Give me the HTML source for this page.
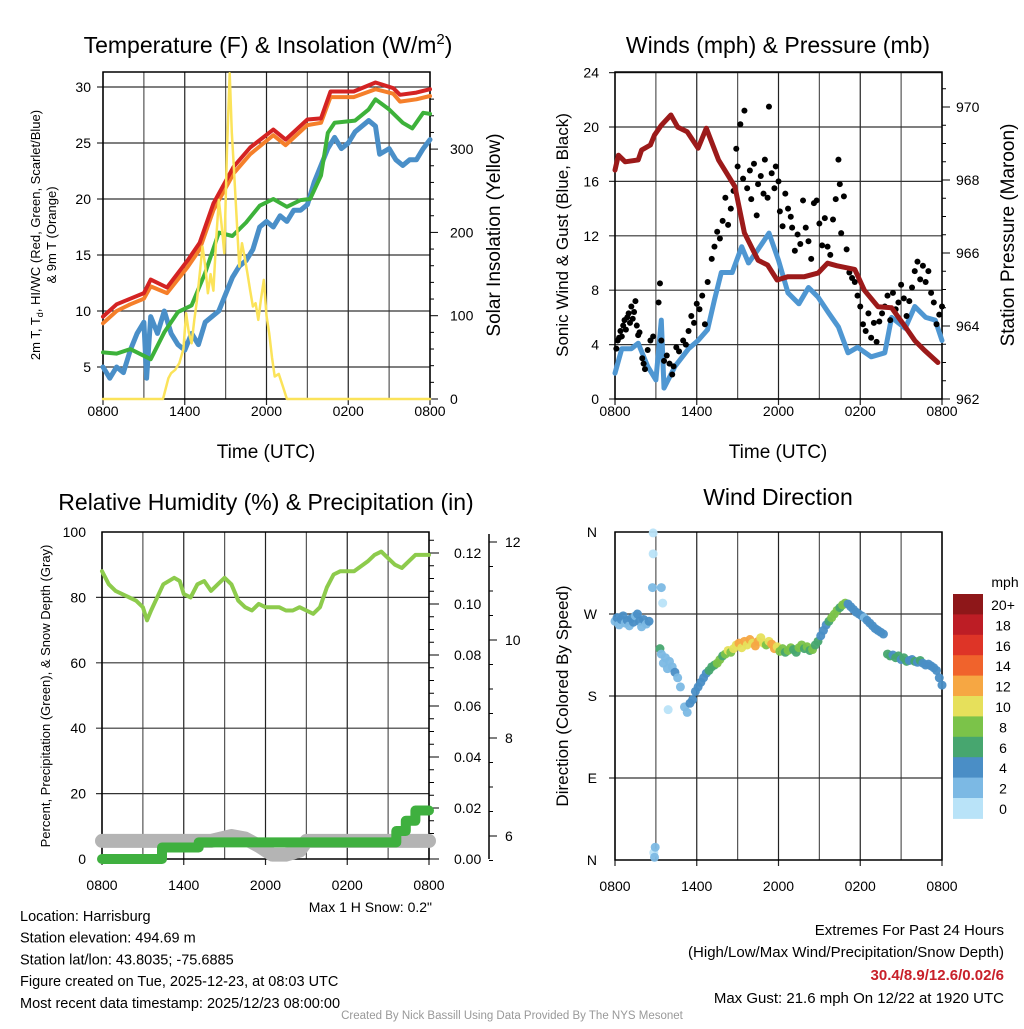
<!DOCTYPE html>
<html><head><meta charset="utf-8"><style>
body{margin:0;background:#fff;width:1024px;height:1024px;overflow:hidden;font-family:"Liberation Sans",sans-serif}
svg text{font-family:"Liberation Sans",sans-serif}
</style></head><body>
<svg id="s" width="1024" height="1024" viewBox="0 0 1024 1024" xmlns="http://www.w3.org/2000/svg"></svg>
<script>
// ---------- DATA ----------
const xTicks=["0800","1400","2000","0200","0800"];
// Panel 1
const tT=[0,1,2,3,3.5,4.7,6.2,7.1,8.1,9.6,10.8,12.5,13.4,15,16,16.7,18.4,20,21.3,21.8,23,24];
const tempRed=[9.5,10.6,11.1,11.6,12.8,12.1,14.5,16.1,19.6,22.9,24.6,26.2,25.3,27.1,27.2,29.6,29.6,30.4,29.9,29.3,29.5,29.8];
const temp9m=[8.9,10.0,10.6,11.1,12.2,11.6,13.9,15.5,19.0,22.3,24.0,25.7,24.8,26.6,26.8,29.1,29.1,29.8,29.4,28.7,28.9,29.2];
const tDew=[0,1,2,3,3.5,4.5,5.5,6.5,7.5,8.5,9.5,10.5,11.5,12.5,13.5,14.5,15.2,16,16.5,17,18.5,19.5,20,21,22,22.7,23.5,24];
const dew=[6.3,6.2,6.6,6.0,5.7,8.1,9.9,10.5,13.4,17.0,16.7,17.9,19.4,20.0,19.3,19.9,20.0,22.1,25.9,26.8,27.0,28.0,28.9,28.0,26.8,26.3,27.7,27.6];
const tWc=[0,0.5,1,1.5,2,2.5,3,3.2,3.5,4,4.5,5,5.5,6,6.5,7,7.5,8,8.5,9,9.5,10,10.5,11,11.5,12,12.5,13,13.5,14,14.5,15,15.5,16,16.5,17,17.5,18,18.5,19,19.5,20,20.3,21,21.5,22,22.5,23,23.5,24];
const windChill=[5,4,5,4.5,6.5,8,9,4,9.5,8,10,8,7,6.5,8,7,9,9.5,10,11.5,13,14,14.5,15.5,17.5,18,17.5,18.5,18,19,19,19.5,21.5,23,24.5,25.5,24.5,25,26,26.5,27,26.5,24,24.5,23.5,23,23.5,23.5,24.5,25.3];
const tSol=[0,4.4,4.8,5.0,5.3,5.6,5.9,6.1,6.3,6.5,6.7,6.9,7.1,7.3,7.5,7.7,7.9,8.1,8.3,8.5,8.7,8.9,9.1,9.3,9.45,9.6,9.8,10.0,10.2,10.4,10.6,10.8,11.0,11.2,11.4,11.6,11.8,12.0,12.2,12.4,12.6,12.9,13.2,13.5,24];
const solar=[0,0,25,31,35,43,60,103,80,67,95,119,150,183,160,127,150,130,190,239,210,175,300,391,320,279,220,159,187,170,151,130,111,115,95,120,143,100,79,50,27,30,15,0,0];
// Panel 2
const tWind=[0,0.5,1.2,1.7,2.4,3.0,3.4,3.6,4.4,5.4,6.1,6.8,7.3,7.8,8.6,9.3,9.8,10.5,11.3,12.0,12.7,13.5,14.2,14.9,15.7,16.4,17.1,17.8,18.8,19.8,20.3,21.3,22.0,22.8,23.5,24];
const wind=[1.9,3.7,3.7,4.1,2.4,1.4,5.8,0.8,2.4,3.7,4.3,5.1,7.3,9.3,9.3,11.2,10.0,11.0,12.2,10.2,7.8,7.0,8.2,7.5,6.3,5.3,3.4,3.8,3.1,3.4,6.0,5.2,6.8,6.0,5.8,4.3];
const tPres=[0,0.25,0.75,1.7,1.95,2.6,2.9,3.4,4.1,4.6,5.3,6.1,6.7,7.6,8.8,9.5,10.5,11.2,11.9,12.7,13.9,14.9,15.6,16.3,17.6,18.3,19.3,20.3,21.3,22.0,22.7,23.7];
const pressure=[968.27,968.68,968.5,968.55,968.82,968.96,969.23,969.5,969.78,969.45,969.32,968.87,969.42,968.55,967.82,966.55,965.8,965.67,965.26,965.35,965.35,965.45,965.72,965.65,965.55,964.98,964.53,964.5,963.98,963.6,963.34,963.0];
const gustT=[0.1,0.2,0.3,0.4,0.5,0.6,0.7,0.8,0.9,1.0,1.1,1.2,1.3,1.4,1.5,1.6,1.7,1.8,2.0,2.1,2.2,2.4,2.6,2.8,3.2,3.3,3.4,3.6,3.8,4.0,4.2,4.3,4.5,4.7,5.0,5.2,5.4,5.6,5.8,6.0,6.2,6.4,6.6,6.8,7.1,7.3,7.5,7.7,7.9,8.1,8.3,8.5,8.7,8.9,9.0,9.2,9.4,9.5,9.7,9.9,10.0,10.2,10.4,10.5,10.7,10.9,11.0,11.2,11.3,11.5,11.7,11.8,12.0,12.1,12.3,12.5,12.7,12.9,13.0,13.2,13.4,13.6,13.8,14.0,14.2,14.4,14.6,14.8,15.0,15.2,15.4,15.6,15.8,16.0,16.2,16.4,16.5,16.6,16.8,17.0,17.2,17.4,17.6,17.8,18.0,18.2,18.4,18.6,18.8,19.0,19.2,19.4,19.6,19.8,20.0,20.2,20.4,20.6,20.8,21.0,21.2,21.4,21.6,21.8,22.0,22.2,22.4,22.6,22.8,23.0,23.2,23.4,23.6,23.8,24.0];
const gust=[3.7,4.3,4.5,5.0,4.6,5.4,5.8,5.1,6.0,6.3,5.6,6.8,5.9,6.4,7.2,5.4,4.7,4.9,3.0,2.6,2.2,3.6,4.3,4.6,7.1,8.5,4.3,2.8,3.2,2.6,1.8,2.4,3.8,3.5,4.3,4.0,5.0,6.1,5.6,7.0,6.6,7.6,5.5,8.6,10.3,11.2,12.3,11.8,13.1,14.8,12.8,14.0,15.3,18.4,17.1,20.2,16.2,21.2,15.5,16.8,14.7,17.3,13.5,15.8,16.4,15.1,17.6,14.8,21.5,16.6,15.5,17.1,16.0,13.8,12.7,15.1,14.0,13.4,12.6,10.9,12.1,11.4,14.6,12.6,11.6,10.3,14.4,14.6,12.9,11.3,13.3,11.2,10.6,13.2,14.7,17.6,15.8,12.2,14.9,11.0,9.3,8.9,8.6,7.6,6.8,5.5,5.0,6.3,4.5,5.6,4.2,5.7,6.3,6.8,7.6,5.8,7.8,6.6,7.1,8.4,7.4,6.1,7.2,8.2,9.4,10.1,8.8,9.8,8.6,9.4,7.8,7.1,5.5,6.2,6.8];
// Panel 3
const tRh=[0,0.5,1,2,2.5,3,3.3,3.6,4.5,5.3,5.7,6,6.5,7,7.5,8,8.5,9,9.5,10,10.5,11,11.5,12,13,13.5,14,14.5,15,15.5,16,16.5,17,17.5,18.5,19.5,20,20.5,21,21.5,22,23,24];
const rh=[88,84,82,80,79,77,73,76,84,86,85,81,80,84,85,82,84,86,84,79,77,76,78,77,77,76,76,77,76,75,77,83,87,88,88,91,93,94,92,90,89,93,93];
const tPcp=[0,4.4,4.4,7.1,7.1,21.6,21.6,22.3,22.3,23.0,23.0,24];
const precip=[0,0,0.0045,0.0045,0.0065,0.0065,0.011,0.011,0.015,0.015,0.019,0.019];
const tSnow=[0,8,9.5,10.5,11.5,12.5,13.5,14.5,15,16,24];
const snow=[5.9,5.9,6.0,5.95,5.8,5.62,5.62,5.7,5.9,5.9,5.9];
// Panel 4
const dirT=[0,0.15,0.3,0.45,0.6,0.75,0.9,1.05,1.2,1.35,1.5,1.65,1.8,1.95,2.1,2.3,2.5,2.8,2.8,2.75,3.4,3.5,2.85,2.9,2.95,3.3,3.4,3.55,3.7,3.85,4.0,4.2,4.4,4.6,4.8,3.9,5.1,5.3,5.5,5.7,5.9,6.1,6.3,6.5,6.7,6.9,7.1,7.3,7.5,7.7,7.9,8.1,8.3,8.5,8.7,8.9,9.1,9.3,9.5,9.7,9.9,10.1,10.3,10.5,10.7,10.9,11.1,11.3,11.5,11.7,11.9,12.1,12.3,12.5,12.7,12.9,13.1,13.3,13.5,13.7,13.9,14.1,14.3,14.5,14.7,14.9,15.1,15.3,15.5,15.7,15.9,16.1,16.3,16.5,16.7,16.9,17.1,17.3,17.5,17.7,17.9,18.1,18.3,18.5,18.7,18.9,19.1,19.3,19.5,19.7,20.0,20.2,20.4,20.6,20.8,21.0,21.2,21.4,21.6,21.8,22.0,22.2,22.4,22.6,22.8,23.0,23.2,23.4,23.6,23.8,24.0];
const dirDeg=[262,266,258,264,268,260,263,257,265,261,268,270,262,256,264,259,262,359,336,299,299,282,8,3,14,232,226,216,222,210,218,212,206,200,190,165,168,162,172,176,185,190,195,200,205,208,212,214,216,220,224,226,230,228,232,236,238,233,240,236,242,238,235,240,244,238,236,240,237,232,234,229,232,228,230,233,231,228,233,236,232,234,230,231,236,240,246,252,258,262,266,270,274,277,280,282,281,278,275,272,270,268,266,263,260,257,254,252,250,248,226,224,225,222,224,220,222,218,219,220,218,217,219,216,214,215,213,211,208,200,192];
const dirSpd=[3,5,3,5,5,3,5,3,5,5,3,5,5,3,5,3,5,1,1,3,3,1,1,3,3,7,3,3,3,3,3,3,5,3,3,1,3,3,5,5,5,5,5,5,5,7,7,7,9,9,7,9,11,9,11,11,13,11,13,11,13,11,13,13,11,11,9,11,13,13,11,9,9,7,9,9,7,7,9,9,7,9,7,9,7,7,5,5,5,7,9,9,9,7,9,9,5,5,5,5,5,5,3,5,5,5,5,5,5,5,7,7,5,7,7,5,7,7,5,5,7,5,7,5,5,5,5,5,5,5,5];
const cbLabels=["20+","18","16","14","12","10","8","6","4","2","0"];
const cbColors=["#8e1719","#bd1d25","#de3427","#f0632c","#f6a743","#e6e05b","#7bc349","#47a66f","#4a8ec6","#7cb9e4","#b9e3f8"];

// ---------- HELPERS ----------
const S=document.getElementById('s');const NS='http://www.w3.org/2000/svg';
function el(tag,attrs,parent){const e=document.createElementNS(NS,tag);for(const k in attrs)e.setAttribute(k,attrs[k]);(parent||S).appendChild(e);return e;}
function txt(x,y,str,size,anchor,extra){const e=el('text',Object.assign({x:x,y:y,'font-size':size,'text-anchor':anchor||'middle',fill:'#000'},extra||{}));e.textContent=str;return e;}
function line(ts,vs,sx,sy,color,w,name){let d='';for(let i=0;i<ts.length;i++){d+=(i?'L':'M')+sx(ts[i]).toFixed(1)+','+sy(vs[i]).toFixed(1);}
 const p=el('path',{d:d,fill:'none',stroke:color,'stroke-width':w,'stroke-linejoin':'round','stroke-linecap':'round'});
 
 return p;}
function frame(x0,x1,y0,y1,hy,name,lab){
 const g=el('g',{});
 for(let h=0;h<=24;h+=3){const x=x0+(x1-x0)*h/24;el('line',{x1:x,x2:x,y1:y0,y2:y1+ (h%6==0?6:0),stroke:h%6==0?'#222':'#555','stroke-width':1.2},g);}
 hy.forEach(y=>el('line',{x1:x0-6,x2:x1,y1:y,y2:y,stroke:'#333','stroke-width':1.2},g));
 el('rect',{x:x0,y:y0,width:x1-x0,height:y1-y0,fill:'none',stroke:'#000','stroke-width':1.5},g);
 xTicks.forEach((l,i)=>{const t=txt(x0+(x1-x0)*i/4,y1+lab,l,14);});
 return g;}
function rtxt(x,y,str,size,name){const t=txt(x,y,str,size,'middle',{transform:'rotate(-90 '+x+' '+y+')'});return t;}
function tt(x,y,str,size,anchor,name,extra){const t=txt(x,y,str,size,anchor,extra);return t;}

// ---------- PANEL 1 ----------
{const x0=103,x1=430,y0=72,y1=399;const sx=t=>x0+(x1-x0)*t/24;const sy=v=>367-(v-5)*11.2;const ss=v=>399-v*0.833;
 frame(x0,x1,y0,y1,[5,10,15,20,25,30].map(sy),'temp-plot-frame',17);
 [5,10,15,20,25,30].forEach(v=>tt(x0-12,sy(v)+5,String(v),14,'end','temp-y-tick'));
 [0,100,200,300].forEach(v=>{tt(x1+20,ss(v)+5,String(v),14,'start','solar-y-tick');el('line',{x1:x1,x2:x1+8,y1:ss(v),y2:ss(v),stroke:'#000'});});
 for(let v=20;v<380;v+=20)if(v%100)el('line',{x1:x1,x2:x1+4,y1:ss(v),y2:ss(v),stroke:'#000'});
 line(tWc,windChill,sx,sy,'#4a8fc8',5,'windchill-line');
 line(tDew,dew,sx,sy,'#3db23a',4,'dewpoint-line');
 line(tT,temp9m,sx,sy,'#f57f2a',4,'temp-9m-line');
 line(tT,tempRed,sx,sy,'#d42323',4,'temp-2m-line');
 line(tSol,solar,sx,ss,'#fbe35a',2.5,'solar-line');
 const ti=tt(268,53,'Temperature (F) & Insolation (W/m',23,'middle','temp-title');const sp=el('tspan',{dy:-9,'font-size':15},ti);sp.textContent='2';const sp2=el('tspan',{dy:9},ti);sp2.textContent=')';
 tt(266,458,'Time (UTC)',19,'middle','temp-x-title');
 const yl=rtxt(40,235,'2m T, T',13,'temp-y-title');const a=el('tspan',{'font-size':9,dy:3},yl);a.textContent='d';const b=el('tspan',{dy:-3},yl);b.textContent=', HI/WC (Red, Green, Scarlet/Blue)';
 rtxt(56,235,'& 9m T (Orange)',13,'temp-y-title-2');
 rtxt(500,235,'Solar Insolation (Yellow)',19,'solar-y-title');
}
// ---------- PANEL 2 ----------
{const x0=615,x1=942,y0=72,y1=399;const sx=t=>x0+(x1-x0)*t/24;const sy=v=>399-v*13.6;const sp=p=>399-(p-962)*36.5;
 frame(x0,x1,y0,y1,[0,4,8,12,16,20,24].map(sy),'wind-plot-frame',17);
 [0,4,8,12,16,20,24].forEach(v=>tt(x0-16,sy(v)+5,String(v),14,'end','wind-y-tick'));
 [962,964,966,968,970].forEach(v=>{tt(x1+14,sp(v)+5,String(v),14,'start','pressure-y-tick');el('line',{x1:x1,x2:x1+8,y1:sp(v),y2:sp(v),stroke:'#000'});});
 for(let v=962.5;v<971;v+=0.5)if(v%2)el('line',{x1:x1,x2:x1+4,y1:sp(v),y2:sp(v),stroke:'#000'});
 line(tWind,wind,sx,sy,'#4f97d2',5,'sonic-wind-line');
 for(let i=0;i<gustT.length;i++){const c=el('circle',{cx:sx(gustT[i]),cy:sy(gust[i]),r:3,fill:'#000'});
  
  }
 line(tPres,pressure,sx,sp,'#9c1a1a',5,'pressure-line');
 tt(778,53,'Winds (mph) & Pressure (mb)',23,'middle','wind-title');
 tt(778,458,'Time (UTC)',19,'middle','wind-x-title');
 rtxt(568,235,'Sonic Wind & Gust (Blue, Black)',17,'wind-y-title');
 rtxt(1014,235,'Station Pressure (Maroon)',19,'pressure-y-title');
}
// ---------- PANEL 3 ----------
{const x0=102,x1=429,y0=532,y1=859;const sx=t=>x0+(x1-x0)*t/24;const sy=v=>859-v*3.27;const sp=p=>859-p*2550;const sn=s=>836-(s-6)*49;
 frame(x0,x1,y0,y1,[20,40,60,80].map(sy),'rh-plot-frame',31);
 [0,20,40,60,80,100].forEach(v=>tt(x0-16,sy(v)+5,String(v),14,'end','rh-y-tick'));
 for(let i=0;i<=12;i+=2){const p=i/100;tt(x1+25,sp(p)+5,p.toFixed(2),14,'start','precip-y-tick');el('line',{x1:x1,x2:x1+10,y1:sp(p),y2:sp(p),stroke:'#000'});}
 for(let i=1;i<13;i+=0.5)if(i%2)el('line',{x1:x1,x2:x1+5,y1:sp(i/100),y2:sp(i/100),stroke:'#000'});
 el('line',{x1:489,x2:489,y1:534,y2:859,stroke:'#000','stroke-width':1.5});
 [6,8,10,12].forEach(v=>{tt(505,sn(v)+5,String(v),14,'start','snow-y-tick');el('line',{x1:489,x2:497,y1:sn(v),y2:sn(v),stroke:'#000'});});
 for(let v=5.5;v<12.2;v+=0.5)if(v%2)el('line',{x1:489,x2:493,y1:sn(v),y2:sn(v),stroke:'#000'});
 line(tSnow,snow,sx,sn,'#b4b4b4',14,'snow-depth-line');
 line(tPcp,precip,sx,sp,'#3fb03f',10,'precip-line');
 line(tRh,rh,sx,sy,'#8dcb4c',4,'rh-line');
 tt(266,510,'Relative Humidity (%) & Precipitation (in)',23,'middle','rh-title');
 rtxt(50,696,'Percent, Precipitation (Green), & Snow Depth (Gray)',13,'rh-y-title');
 tt(432,912,'Max 1 H Snow: 0.2"',14,'end','max-snow-label');
}
// ---------- PANEL 4 ----------
{const x0=615,x1=942,y0=532,y1=860;const sx=t=>x0+(x1-x0)*t/24;const sy=d=>860-d*328/360;
 frame(x0,x1,y0,y1,[90,180,270].map(sy),'direction-plot-frame',31);
 [['N',360],['W',270],['S',180],['E',90],['N',0]].forEach(a=>tt(x0-18,sy(a[1])+5,a[0],14,'end','direction-y-tick'));
 for(let i=0;i<dirT.length;i++){const bin=Math.min(10,Math.floor(dirSpd[i]/2));
  const c=el('circle',{cx:sx(dirT[i]),cy:sy(dirDeg[i]),r:4.5,fill:cbColors[10-bin],opacity:0.95});
  
  }
 tt(778,505,'Wind Direction',23,'middle','direction-title');
 rtxt(568,696,'Direction (Colored By Speed)',17,'direction-y-title');
 const g=el('g',{});
 const cy0=594,ch=20.4;
 cbColors.forEach((c,i)=>{el('rect',{x:953,y:cy0+i*ch,width:30,height:ch+0.5,fill:c},g);tt(1003,cy0+i*ch+16,cbLabels[i],14,'middle','colorbar-label');});
 tt(1005,587,'mph',14,'middle','colorbar-unit');
}
// ---------- FOOTER ----------
const info=["Location: Harrisburg","Station elevation: 494.69 m","Station lat/lon: 43.8035; -75.6885","Figure created on Tue, 2025-12-23, at 08:03 UTC","Most recent data timestamp: 2025/12/23 08:00:00"];
info.forEach((s,i)=>tt(20,921+i*21.7,s,14.5,'start','station-info-line'));
tt(1004,935,'Extremes For Past 24 Hours',15,'end','extremes-title');
tt(1004,957,'(High/Low/Max Wind/Precipitation/Snow Depth)',15,'end','extremes-subtitle');
tt(1004,980,'30.4/8.9/12.6/0.02/6',15,'end','extremes-values',{fill:'#c8202a','font-weight':'bold'});
tt(1004,1003,'Max Gust: 21.6 mph On 12/22 at 1920 UTC',15,'end','max-gust-label');
tt(512,1019,'Created By Nick Bassill Using Data Provided By The NYS Mesonet',11.5,'middle','credit-line',{fill:'#999'});
</script>
</body></html>
